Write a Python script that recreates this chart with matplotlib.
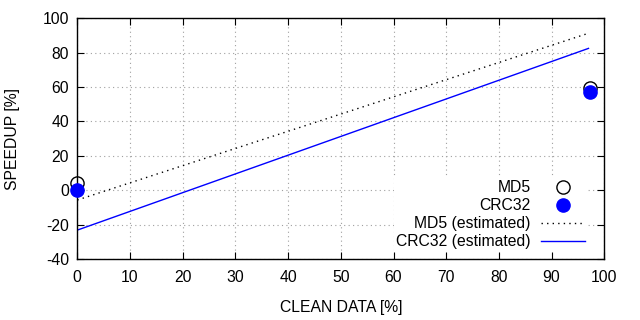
import matplotlib
matplotlib.use("Agg")
import matplotlib.pyplot as plt
import matplotlib.lines as mlines

plt.rcParams['font.family'] = ['Liberation Sans', 'DejaVu Sans']
plt.rcParams['axes.unicode_minus'] = False

# measured points
clean_x = [0, 97.2]
md5_y = [4, 59.3]
crc32_y = [0, 57]

# estimated trend lines (endpoints)
est_x = [0, 97]
md5_est = [-5.7, 91.3]
crc32_est = [-23.2, 82.5]

xticks = list(range(0, 101, 10))
yticks = list(range(-40, 101, 20))

FS = 11.3

fig = plt.figure(figsize=(6.4, 3.2), dpi=100)
ax = fig.add_axes([77.3/640, 1-259/320, (604.3-77.3)/640, (259-18.3)/320])

ax.plot(est_x, md5_est, color='black', linestyle=(0, (1, 3)), linewidth=1.0, zorder=2)
ax.plot(est_x, crc32_est, color='#0000ff', linestyle='-', linewidth=1.0, zorder=2)
ax.plot(clean_x, md5_y, linestyle='none', marker='o', markersize=9.5, markerfacecolor='none',
        markeredgecolor='black', markeredgewidth=1.0, clip_on=False, zorder=3)
ax.plot(clean_x, crc32_y, linestyle='none', marker='o', markersize=9.5, markerfacecolor='#0000ff',
        markeredgecolor='#0000ff', clip_on=False, zorder=4)

ax.set_xlim(0, 100)
ax.set_ylim(-40, 100)
ax.set_xticks(xticks)
ax.set_yticks(yticks)
ax.tick_params(direction='in', top=True, right=True, labelsize=FS, length=5, width=0.8, colors='black')
ax.tick_params(axis='x', pad=8)
ax.tick_params(axis='y', pad=6)
ax.grid(True, color='#a0a0a0', linestyle=(0, (1, 3)), linewidth=0.8)
for s in ax.spines.values():
    s.set_linewidth(1.0)
ax.set_axisbelow(True)

ax.set_xlabel('CLEAN DATA [%]', fontsize=FS, labelpad=11)
ax.set_ylabel('SPEEDUP [%]', fontsize=FS, labelpad=16)

h1 = mlines.Line2D([], [], linestyle='none', marker='o', markersize=9.5, markerfacecolor='none',
                   markeredgecolor='black')
h2 = mlines.Line2D([], [], linestyle='none', marker='o', markersize=9.5, markerfacecolor='#0000ff',
                   markeredgecolor='#0000ff')
h3 = mlines.Line2D([], [], color='black', linestyle=(0, (1, 3)), linewidth=1.0)
h4 = mlines.Line2D([], [], color='#0000ff', linewidth=1.0)
leg = ax.legend([h1, h2, h3, h4], ['MD5', 'CRC32', 'MD5 (estimated)', 'CRC32 (estimated)'],
                loc='lower right', bbox_to_anchor=(587/640, 1-251/320), bbox_transform=fig.transFigure,
                markerfirst=False, alignment='right', frameon=True, fancybox=False, framealpha=1,
                edgecolor='none', fontsize=FS, handlelength=2.85, handletextpad=0.65,
                labelspacing=0.2, borderpad=0.1, borderaxespad=0)
for t in leg.get_texts():
    t.set_ha('right')
leg._legend_box.align = 'right'

fig.savefig('out.png', dpi=100)
